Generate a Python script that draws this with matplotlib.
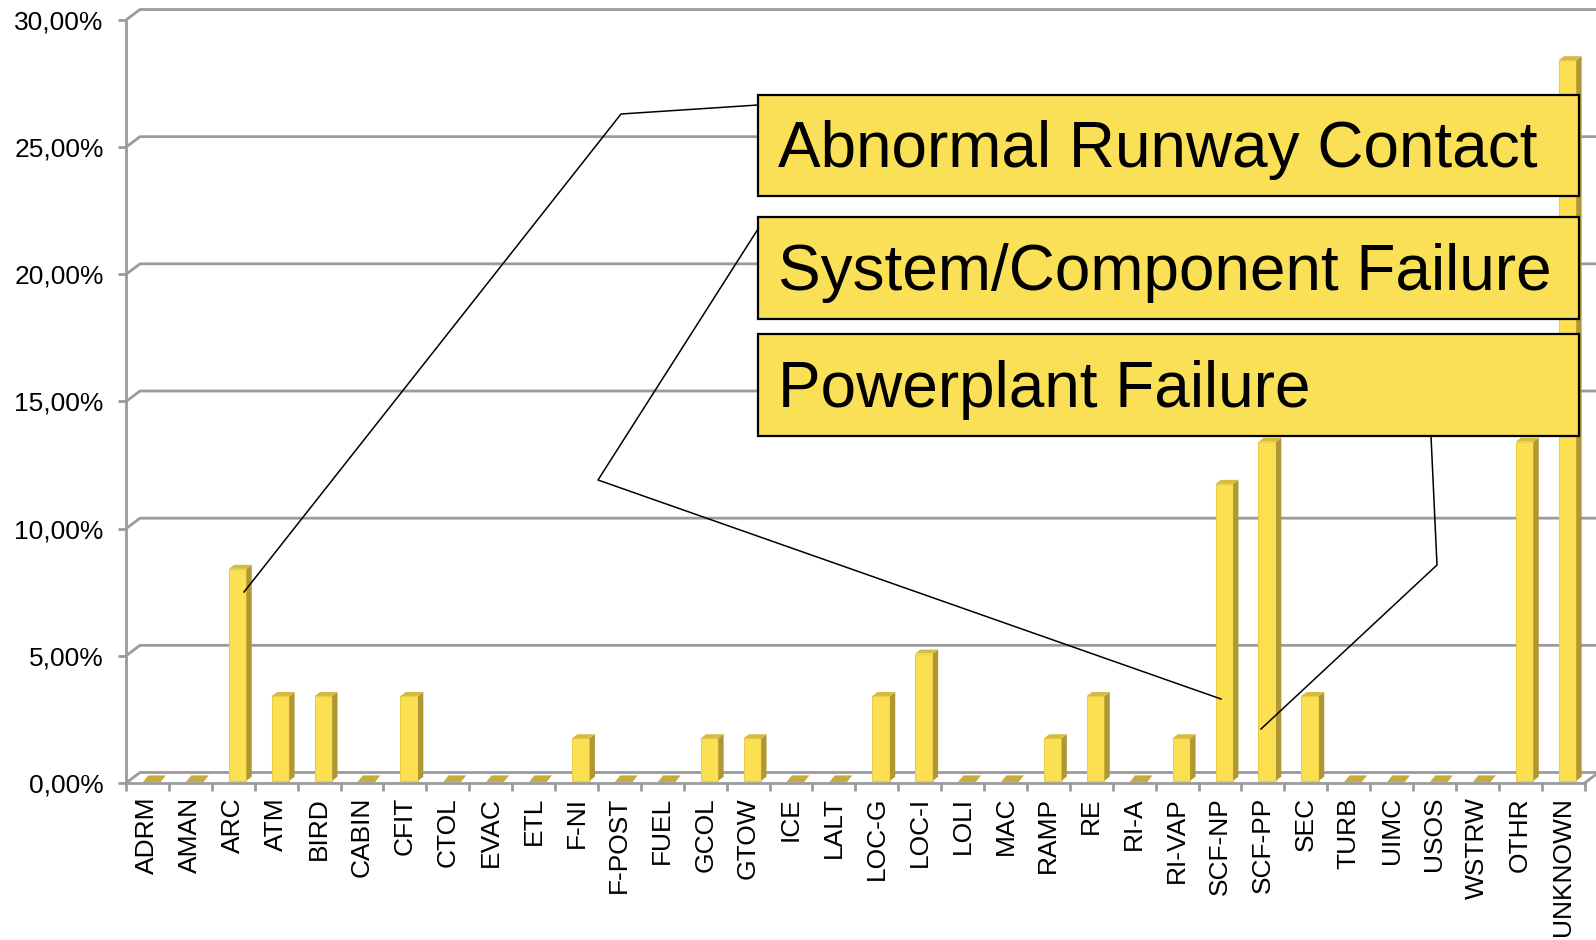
import matplotlib
matplotlib.use('Agg')
import matplotlib.pyplot as plt
from matplotlib.patches import Polygon, Rectangle
from matplotlib.lines import Line2D
import numpy as np

plt.rcParams['font.family'] = ['Liberation Sans', 'DejaVu Sans']

# data (share of occurrences, %)
categories = ['ADRM', 'AMAN', 'ARC', 'ATM', 'BIRD', 'CABIN', 'CFIT', 'CTOL', 'EVAC', 'ETL',
              'F-NI', 'F-POST', 'FUEL', 'GCOL', 'GTOW', 'ICE', 'LALT', 'LOC-G', 'LOC-I', 'LOLI',
              'MAC', 'RAMP', 'RE', 'RI-A', 'RI-VAP', 'SCF-NP', 'SCF-PP', 'SEC', 'TURB', 'UIMC',
              'USOS', 'WSTRW', 'OTHR', 'UNKNOWN']
values = [0, 0, 8.33, 3.33, 3.33, 0, 3.33, 0, 0, 0,
          1.67, 0, 0, 1.67, 1.67, 0, 0, 3.33, 5.0, 0,
          0, 1.67, 3.33, 0, 1.67, 11.67, 13.33, 3.33, 0, 0,
          0, 0, 13.33, 28.33]
yticks = [0, 5, 10, 15, 20, 25, 30]

callouts = ['Abnormal Runway Contact', 'System/Component Failure', 'Powerplant Failure']

W, H = 1596, 940
fig = plt.figure(figsize=(W / 100, H / 100), dpi=100)

# front plane of the (fake 3d) chart
x0px, x1px, y0px, y1px = 126, 1584.6, 783, 20
ax = fig.add_axes([x0px / W, (H - y0px) / H, (x1px - x0px) / W, (y0px - y1px) / H])
n = len(categories)
ax.set_xlim(-0.5, n - 0.5)
ax.set_ylim(0, 30)

cat_px = (x1px - x0px) / n
val_px = (y0px - y1px) / 30
DX = 14 / cat_px      # full depth shift in data units
DY = 10.5 / val_px

grid_col = '#9B9B9B'
# back wall gridlines
for v in yticks:
    ax.plot([-0.5, -0.5 + DX, n - 0.5 + DX + 0.5], [v, v + DY, v + DY],
            color=grid_col, lw=2, clip_on=False, zorder=1, solid_capstyle='butt')
# floor right edge
ax.plot([n - 0.5, n - 0.5 + DX], [0, DY], color=grid_col, lw=2, clip_on=False, zorder=1)

# bars
w = 0.41
d0 = 0.22          # front face depth
sx, sy = 0.38 * DX, 0.38 * DY
front_c = '#FCE052'
side_c = '#AF9733'
top_c = '#D6BB42'
for i, v in enumerate(values):
    bx = i - w / 2 + d0 * DX + 0.03
    by = d0 * DY
    if v > 0:
        ax.add_patch(Rectangle((bx, by), w, v, facecolor=front_c, edgecolor='#E8CC4A',
                               lw=0.8, zorder=3))
        ax.add_patch(Polygon([(bx + w, by), (bx + w, by + v), (bx + w + sx, by + v + sy),
                              (bx + w + sx, by + sy)], closed=True, facecolor=side_c,
                             edgecolor='none', zorder=3))
        ax.add_patch(Polygon([(bx, by + v), (bx + w, by + v), (bx + w + sx, by + v + sy),
                              (bx + sx, by + v + sy)], closed=True, facecolor=top_c,
                             edgecolor='none', zorder=3))
    else:
        ax.add_patch(Polygon([(bx, by - 0.05), (bx + w, by - 0.05), (bx + w + sx, by + sy + 0.05),
                              (bx + sx, by + sy + 0.05)], closed=True, facecolor='#C6AB3A',
                             edgecolor='none', zorder=3))

# axes styling
for s in ['top', 'right']:
    ax.spines[s].set_visible(False)
for s in ['left', 'bottom']:
    ax.spines[s].set_color(grid_col)
    ax.spines[s].set_linewidth(2)
ax.set_facecolor('none')
ax.set_yticks(yticks)
ax.set_yticklabels([f'{v:.2f}'.replace('.', ',') + '%' for v in yticks], fontsize=19)
ax.tick_params(axis='y', length=6, width=2, color=grid_col, pad=10)
ax.set_xticks(np.arange(n + 1) - 0.5)
ax.set_xticklabels([])
ax.tick_params(axis='x', which='major', length=6, width=2, color=grid_col)
ax.set_xticks(np.arange(n), minor=True)
ax.set_xticklabels(categories, minor=True, rotation=90, fontsize=19, va='top')
ax.tick_params(axis='x', which='minor', length=0, pad=10)


def fx(px):
    return px / W


def fy(py):
    return 1 - py / H


# callout boxes
boxes = [(758, 95, 1579, 196), (758, 217, 1579, 318.5), (758, 334, 1579, 435.5)]
for (l, t, r, b), txt in zip(boxes, callouts):
    fig.add_artist(Rectangle((fx(l), fy(b)), fx(r) - fx(l), fy(t) - fy(b),
                             transform=fig.transFigure, facecolor='#FAE056',
                             edgecolor='black', lw=1.6, zorder=6))
    fig.text(fx(l + 20), fy((t + b) / 2 + 22), txt, fontsize=46, va='baseline',
             ha='left', zorder=7)

# leader lines
leaders = [([758, 621, 244], [105, 114, 592]),
           ([758, 598, 1221], [229, 480, 699]),
           ([1431, 1437, 1261], [436, 565, 729])]
for xs, ys in leaders:
    fig.add_artist(Line2D([fx(x) for x in xs], [fy(y) for y in ys],
                          transform=fig.transFigure, color='black', lw=1.1, zorder=5))

fig.savefig('out.png', dpi=100, facecolor='white')
